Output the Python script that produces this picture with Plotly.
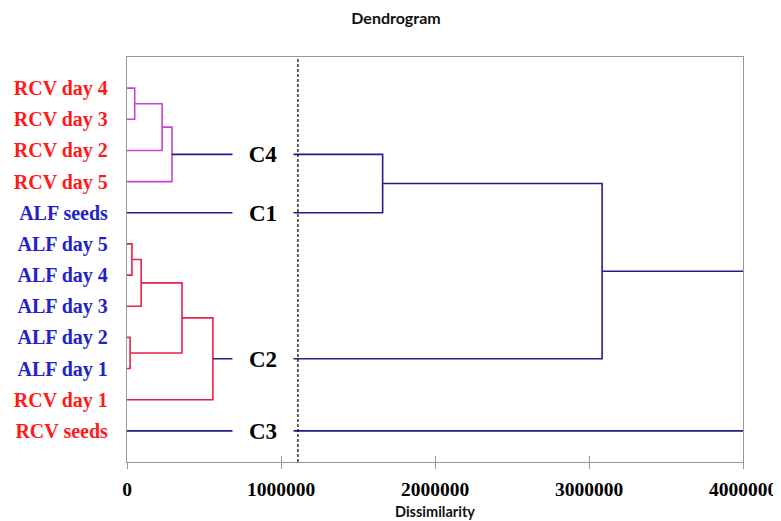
import plotly.graph_objects as go

# ---------------- data ----------------
leaf_order = ["RCV seeds", "RCV day 1", "ALF day 1", "ALF day 2", "ALF day 3",
              "ALF day 4", "ALF day 5", "ALF seeds", "RCV day 5", "RCV day 2",
              "RCV day 3", "RCV day 4"]           # bottom -> top
leaf_colors = ["#FF1A1A", "#FF1A1A", "#2222C8", "#2222C8", "#2222C8",
               "#2222C8", "#2222C8", "#2222C8", "#FF1A1A", "#FF1A1A",
               "#FF1A1A", "#FF1A1A"]

# merges: (node name, child a, child b, dissimilarity, colour group)
merge_names = ["m1", "m2", "C4", "m4", "m5", "m6", "m7", "C2", "t1", "t2", "t3"]
merge_a = ["RCV day 4", "m1", "m2", "ALF day 5", "m4", "ALF day 2", "m5", "m7", "C4", "t1", "t2"]
merge_b = ["RCV day 3", "RCV day 2", "RCV day 5", "ALF day 4", "ALF day 3", "ALF day 1", "m6", "RCV day 1", "ALF seeds", "C2", "RCV seeds"]
merge_height = [50000, 228000, 292000, 32000, 92000, 20000, 357000, 558000, 1660000, 3085000, 4050000]
merge_group = ["c4", "c4", "c4", "c2", "c2", "c2", "c2", "c2", "top", "top", "top"]

cluster_labels = ["C4", "C1", "C2", "C3"]
cluster_nodes = ["C4", "ALF seeds", "C2", "RCV seeds"]
cluster_label_pos = 880000
cutoff = 1110000

x_ticks = [0, 1000000, 2000000, 3000000, 4000000]
x_tick_text = ["0", "1000000", "2000000", "3000000", "4000000"]

group_colors = {"c4": "#CC44CC", "c2": "#E8204A", "top": "#1F1F8C"}

# ---------------- build ----------------
ypos = {name: i + 1 for i, name in enumerate(leaf_order)}
xpos = {name: 0 for name in leaf_order}

fig = go.Figure()
for name, a, b, h, g in zip(merge_names, merge_a, merge_b, merge_height, merge_group):
    ya, yb = ypos[a], ypos[b]
    xa, xb = xpos[a], xpos[b]
    fig.add_trace(go.Scatter(
        x=[xa, h, h, xb], y=[ya, ya, yb, yb], mode="lines",
        line=dict(color=group_colors[g], width=1.6), hoverinfo="skip", showlegend=False))
    ypos[name] = (ya + yb) / 2
    xpos[name] = h

serif = "Liberation Serif, Times New Roman, serif"
ticktext = [f"<span style='color:{c}'><b>{t}</b></span>" for t, c in zip(leaf_order, leaf_colors)]

W, H = 773, 513   # page body has an 8px margin
fig.update_layout(
    width=W, height=H,
    margin=dict(l=119, r=38, t=49, b=59, autoexpand=False),
    plot_bgcolor="white", paper_bgcolor="white",
    showlegend=False,
    title=dict(text="<b>Dendrogram</b>", x=388 / W, xref="container", xanchor="center",
               y=1 - 10 / H, yanchor="middle", yref="container", automargin=False,
               font=dict(family="Lato", size=16, color="#111")),
    xaxis=dict(range=[0, 4000000], tickvals=x_ticks, ticktext=[f"<b>{t}</b>" for t in x_tick_text],
               ticks="outside", ticklen=6, tickcolor="#999", tickwidth=1.3, automargin=False,
               showline=True, linecolor="#999", linewidth=1.3, mirror=True,
               showgrid=False, zeroline=False, ticklabelstandoff=3,
               tickfont=dict(family=serif, size=19.5, color="black")),
    xaxis2=dict(range=[0, 4000000], tickvals=x_ticks, ticks="inside", ticklen=6, automargin=False,
                tickcolor="#999", tickwidth=1.3, showticklabels=False, showline=False,
                showgrid=False, zeroline=False, overlaying="x", anchor="y", side="bottom"),
    yaxis=dict(range=[0, 13], tickvals=list(range(1, 13)), ticktext=ticktext, automargin=False,
               ticks="", showline=True, linecolor="#999", linewidth=1.3, mirror=True,
               showgrid=False, zeroline=False, ticklabelstandoff=14,
               tickfont=dict(family=serif, size=20)),
)
fig.add_trace(go.Scatter(x=[None], y=[None], xaxis="x2", yaxis="y", showlegend=False))

fig.add_shape(type="line", x0=cutoff, x1=cutoff, y0=0, y1=1, xref="x", yref="paper",
              line=dict(color="black", width=1.2, dash="3px,2px"), layer="above")

for lab, node in zip(cluster_labels, cluster_nodes):
    fig.add_annotation(x=cluster_label_pos, y=ypos[node], text=f"<b>{lab}</b>", showarrow=False,
                       bgcolor="white", width=58, height=28,
                       font=dict(family=serif, size=23, color="black"))

fig.add_annotation(x=0.5, y=0, xref="paper", yref="paper", yshift=-49, yanchor="middle",
                   text="<b>Dissimilarity</b>", showarrow=False,
                   font=dict(family="Lato", size=14.5, color="#111"))

fig.write_html("out.html")
